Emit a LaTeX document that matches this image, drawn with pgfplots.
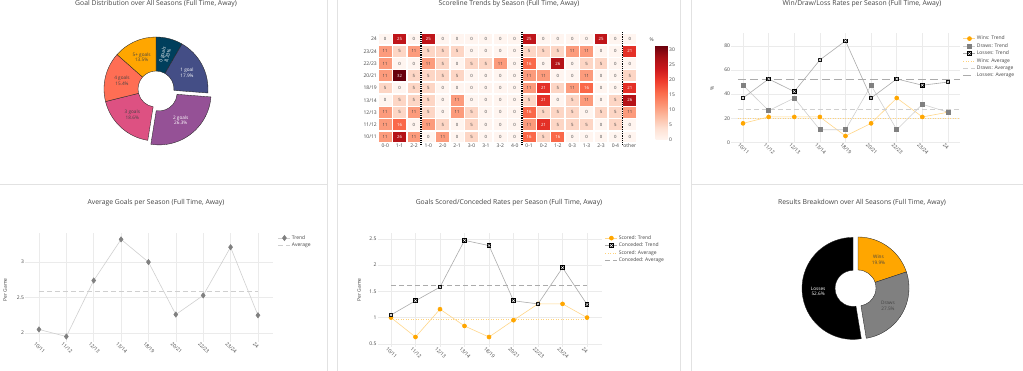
\documentclass[border=0pt]{standalone}
\usepackage{pgfplots}
\pgfplotsset{compat=1.18}
\usepackage{pgfplotstable}
\usepackage{fontspec}
\setmainfont{Open Sans}
\definecolor{txt}{HTML}{444444}
\definecolor{grd}{HTML}{EBEBEB}
\definecolor{org}{HTML}{FFA600}
\definecolor{orgl}{HTML}{FFD68A}
\definecolor{orgd}{HTML}{FFD27A}
\definecolor{gry}{HTML}{808080}
\definecolor{gryl}{HTML}{CFCFCF}
\definecolor{grym}{HTML}{ABABAB}
\definecolor{sep}{HTML}{E2E2E2}
\definecolor{pa}{HTML}{003F5C}
\definecolor{pb}{HTML}{444E86}
\definecolor{pc}{HTML}{955196}
\definecolor{pd}{HTML}{DD5182}
\definecolor{pe}{HTML}{FF6E54}
\definecolor{pf}{HTML}{FFA600}
\newcommand\ttl{\fontsize{6.8}{8}\selectfont}
\newcommand\tck{\fontsize{5.0}{5.8}\selectfont}
\newcommand\cel{\fontsize{4.3}{5}\selectfont}
\newcommand\pielab{\fontsize{4.7}{5.5}\selectfont}

\pgfdeclareplotmark{sqx}{%
  \pgfpathrectangle{\pgfpoint{-\pgfplotmarksize}{-\pgfplotmarksize}}{\pgfpoint{2\pgfplotmarksize}{2\pgfplotmarksize}}%
  \pgfsetfillcolor{black}\pgfusepathqfill
  \pgfsetstrokecolor{white}\pgfsetlinewidth{0.5pt}%
  \pgfpathmoveto{\pgfpoint{-0.55\pgfplotmarksize}{-0.55\pgfplotmarksize}}%
  \pgfpathlineto{\pgfpoint{0.55\pgfplotmarksize}{0.55\pgfplotmarksize}}%
  \pgfpathmoveto{\pgfpoint{-0.55\pgfplotmarksize}{0.55\pgfplotmarksize}}%
  \pgfpathlineto{\pgfpoint{0.55\pgfplotmarksize}{-0.55\pgfplotmarksize}}%
  \pgfusepathqstroke}
\pgfdeclareplotmark{cell}{%
  \pgfpathrectangle{\pgfpoint{-6.45pt}{-5.3pt}}{\pgfpoint{12.9pt}{10.6pt}}%
  \pgfusepathqfill}

% donut helpers (values in percent, radii in pt = axis units)
\newcommand\rin{18}
\newcommand\rout{52}
\newcommand\rlab{35}
\newcommand\slice[4]{%
  \pgfmathsetmacro\aS{90-3.6*#1}%
  \pgfmathsetmacro\aE{90-3.6*#2}%
  \pgfmathsetmacro\aM{(\aS+\aE)/2}%
  \pgfmathsetmacro\cx{#4*cos(\aM)}%
  \pgfmathsetmacro\cy{#4*sin(\aM)}%
  \pgfmathsetmacro\px{\cx+\rout*cos(\aS)}%
  \pgfmathsetmacro\py{\cy+\rout*sin(\aS)}%
  \pgfmathsetmacro\qx{\cx+\rin*cos(\aE)}%
  \pgfmathsetmacro\qy{\cy+\rin*sin(\aE)}%
  \edef\tmp{\noexpand\filldraw[fill=#3, draw=black!85, line width=0.35pt, line join=round] (axis cs:\px,\py) arc[start angle=\aS, end angle=\aE, radius=\rout pt] -- (axis cs:\qx,\qy) arc[start angle=\aE, end angle=\aS, radius=\rin pt] -- cycle;}%
  \tmp}
\newcommand\slabel[6]{%
  \pgfmathsetmacro\aM{90-1.8*(#1+#2)}%
  \pgfmathsetmacro\lx{(#3+\rlab)*cos(\aM)}%
  \pgfmathsetmacro\ly{(#3+\rlab)*sin(\aM)}%
  \edef\tmp{\noexpand\node[text=#4, rotate=#5, align=center, inner sep=0pt, font=\noexpand\pielab] at (axis cs:\lx,\ly) {\unexpanded{#6}};}%
  \tmp}

\pgfplotstableread[row sep=\\]{
x y v\\
0 0 11\\ 1 0 26\\ 2 0 11\\ 3 0 0\\ 4 0 11\\ 5 0 0\\ 6 0 5\\ 7 0 0\\ 8 0 0\\ 9 0 0\\ 10 0 16\\ 11 0 5\\ 12 0 16\\ 13 0 0\\ 14 0 0\\ 15 0 0\\ 16 0 0\\ 17 0 0\\
0 1 11\\ 1 1 16\\ 2 1 0\\ 3 1 11\\ 4 1 5\\ 5 1 0\\ 6 1 5\\ 7 1 0\\ 8 1 0\\ 9 1 0\\ 10 1 11\\ 11 1 21\\ 12 1 5\\ 13 1 5\\ 14 1 5\\ 15 1 0\\ 16 1 5\\ 17 1 0\\
0 2 11\\ 1 2 5\\ 2 2 11\\ 3 2 5\\ 4 2 0\\ 5 2 11\\ 6 2 5\\ 7 2 0\\ 8 2 0\\ 9 2 0\\ 10 2 16\\ 11 2 5\\ 12 2 5\\ 13 2 5\\ 14 2 0\\ 15 2 5\\ 16 2 5\\ 17 2 11\\
0 3 0\\ 1 3 5\\ 2 3 5\\ 3 3 5\\ 4 3 0\\ 5 3 11\\ 6 3 0\\ 7 3 0\\ 8 3 0\\ 9 3 0\\ 10 3 5\\ 11 3 21\\ 12 3 0\\ 13 3 5\\ 14 3 11\\ 15 3 0\\ 16 3 5\\ 17 3 26\\
0 4 5\\ 1 4 0\\ 2 4 5\\ 3 4 5\\ 4 4 0\\ 5 4 0\\ 6 4 0\\ 7 4 0\\ 8 4 0\\ 9 4 0\\ 10 4 11\\ 11 4 21\\ 12 4 5\\ 13 4 11\\ 14 4 16\\ 15 4 0\\ 16 4 0\\ 17 4 21\\
0 5 11\\ 1 5 32\\ 2 5 5\\ 3 5 5\\ 4 5 5\\ 5 5 5\\ 6 5 0\\ 7 5 0\\ 8 5 0\\ 9 5 0\\ 10 5 11\\ 11 5 11\\ 12 5 0\\ 13 5 0\\ 14 5 11\\ 15 5 0\\ 16 5 0\\ 17 5 5\\
0 6 11\\ 1 6 0\\ 2 6 0\\ 3 6 11\\ 4 6 5\\ 5 6 0\\ 6 6 5\\ 7 6 5\\ 8 6 11\\ 9 6 0\\ 10 6 16\\ 11 6 0\\ 12 6 26\\ 13 6 0\\ 14 6 5\\ 15 6 5\\ 16 6 0\\ 17 6 0\\
0 7 11\\ 1 7 5\\ 2 7 11\\ 3 7 5\\ 4 7 5\\ 5 7 5\\ 6 7 0\\ 7 7 0\\ 8 7 0\\ 9 7 0\\ 10 7 5\\ 11 7 5\\ 12 7 5\\ 13 7 11\\ 14 7 11\\ 15 7 0\\ 16 7 0\\ 17 7 21\\
0 8 0\\ 1 8 25\\ 2 8 0\\ 3 8 25\\ 4 8 0\\ 5 8 0\\ 6 8 0\\ 7 8 0\\ 8 8 0\\ 9 8 0\\ 10 8 25\\ 11 8 0\\ 12 8 0\\ 13 8 0\\ 14 8 0\\ 15 8 25\\ 16 8 0\\ 17 8 0\\
}\heat

\pgfplotstableread{
x wins draws losses
0 15.8 47.4 36.8
1 21.1 26.3 52.6
2 21.1 36.8 42.1
3 21.1 10.5 68.4
4 5.3 10.5 84.2
5 15.8 47.4 36.8
6 36.8 10.5 52.6
7 21.1 31.6 47.4
8 25.0 25.0 50.0
}\wdl

\pgfplotstableread{
x scored conceded total
0 1.00 1.05 2.05
1 0.63 1.32 1.95
2 1.16 1.58 2.74
3 0.84 2.47 3.32
4 0.63 2.37 3.00
5 0.95 1.32 2.26
6 1.26 1.26 2.53
7 1.26 1.95 3.21
8 1.00 1.25 2.25
}\goals

\pgfplotsset{
  linechart/.style={
    scale only axis, anchor=south west, clip=false,
    axis line style={draw=none}, tick style={draw=none},
    grid=major, major grid style={draw=grd, line width=0.5pt},
    xtick={0,...,8},
    xticklabels={10/11,11/12,12/13,13/14,18/19,20/21,22/23,23/24,24},
    ticklabel style={font=\tck, text=txt},
    xticklabel style={rotate=-45, anchor=north west, inner sep=0pt, xshift=-2.5pt, yshift=-1.5pt},
    yticklabel style={anchor=east, inner sep=0.8pt},
    /pgf/number format/assume math mode=true,
    legend cell align=left,
    legend style={draw=none, fill=none, font=\tck, text=txt, anchor=north west,
      inner sep=0pt, nodes={inner sep=1.1pt}},
    legend image code/.code={\draw[mark repeat=2, mark phase=2, ##1] plot coordinates {(0pt,0pt) (6pt,0pt) (12pt,0pt)};},
  },
}

\begin{document}
\begin{tikzpicture}[x=1pt,y=1pt]
\useasboundingbox (0,0) rectangle (1023,371);
% panel separators
\draw[sep, line width=0.6pt] (327,0) -- (327,371) (337,0) -- (337,371) (680,0) -- (680,371) (691,0) -- (691,371);
\draw[sep, line width=0.6pt] (0,187) -- (327,187) (337,187) -- (680,187) (691,187) -- (1023,187);

% titles
\node[font=\ttl, text=txt] at (156,367) {Goal Distribution over All Seasons (Full Time, Away)};
\node[font=\ttl, text=txt] at (509,367) {Scoreline Trends by Season (Full Time, Away)};
\node[font=\ttl, text=txt] at (862,367) {Win/Draw/Loss Rates per Season (Full Time, Away)};
\node[font=\ttl, text=txt] at (156,168) {Average Goals per Season (Full Time, Away)};
\node[font=\ttl, text=txt] at (509,168) {Goals Scored/Conceded Rates per Season (Full Time, Away)};
\node[font=\ttl, text=txt] at (862,168) {Results Breakdown over All Seasons (Full Time, Away)};

% ---------- Panel 1: goal distribution donut
\begin{axis}[hide axis, scale only axis, width=130pt, height=130pt,
  xmin=-65, xmax=65, ymin=-65, ymax=65, at={(156pt,282pt)}, anchor=origin, clip=false]
\slice{0}{8.33}{pa}{0}
\slice{8.33}{26.23}{pb}{0}
\slice{26.23}{52.53}{pc}{5}
\slice{52.53}{71.13}{pd}{0}
\slice{71.13}{86.53}{pe}{0}
\slice{86.53}{100}{pf}{0}
\slabel{0}{8.33}{0}{white}{75}{0 goals\\8.33\%}
\slabel{8.33}{26.23}{0}{white}{0}{1 goal\\17.9\%}
\slabel{26.23}{52.53}{5}{white}{0}{2 goals\\26.3\%}
\slabel{52.53}{71.13}{0}{txt}{0}{3 goals\\18.6\%}
\slabel{71.13}{86.53}{0}{txt}{0}{4 goals\\15.4\%}
\slabel{86.53}{100}{0}{txt}{0}{5+ goals\\13.5\%}
\end{axis}

% ---------- Panel 2: heatmap
\begin{axis}[scale only axis, at={(378pt,228pt)}, anchor=south west,
  width=259pt, height=110pt, xmin=-0.5, xmax=17.5, ymin=-0.5, ymax=8.5,
  clip=false, axis line style={draw=none}, tick style={draw=none},
  xtick={0,...,17},
  xticklabels={0-0,1-1,2-2,1-0,2-0,2-1,3-0,3-1,3-2,4-0,0-1,0-2,1-2,0-3,1-3,2-3,0-4,other},
  ytick={0,...,8},
  yticklabels={10/11,11/12,12/13,13/14,18/19,20/21,22/23,23/24,24},
  ticklabel style={font=\tck, text=txt},
  xticklabel style={inner sep=1pt},
  yticklabel style={inner sep=1pt},
  colormap={reds}{rgb255=(255,245,240) rgb255=(254,224,210) rgb255=(252,187,161) rgb255=(252,146,114) rgb255=(251,106,74) rgb255=(239,59,44) rgb255=(203,24,29) rgb255=(165,15,21) rgb255=(103,0,13)},
  point meta min=0, point meta max=31.6,
  colorbar right,
  colorbar style={scale only axis, width=12pt, height=95pt,
    at={(parent axis.south east)}, anchor=south west, xshift=10pt, yshift=3pt,
    ytick={0,5,...,30}, axis line style={draw=none}, tick style={draw=none},
    yticklabel style={font=\tck, text=txt, inner sep=1.5pt},
    /pgf/number format/assume math mode=true},
  /pgf/number format/assume math mode=true]
\addplot[scatter, only marks, mark=cell, point meta=\thisrow{v},
  scatter/use mapped color={fill=mapped color, draw=none}]
  table[x=x, y=y] {\heat};
\addplot[only marks, mark=none,
  visualization depends on={\thisrow{v} \as \cv},
  nodes near coords={\ifdim\cv pt>13pt \color{white}\else\color{txt}\fi\pgfmathprintnumber[fixed,precision=0]{\cv}},
  every node near coord/.append style={font=\cel, anchor=center, inner sep=0pt}]
  table[x=x, y=y] {\heat};
\draw[black, line width=1.6pt, dash pattern=on 0.9pt off 0.9pt] (axis cs:2.5,-0.62) -- (axis cs:2.5,8.62);
\draw[black, line width=1.6pt, dash pattern=on 0.9pt off 0.9pt] (axis cs:9.5,-0.62) -- (axis cs:9.5,8.62);
\draw[black, line width=1.6pt, dash pattern=on 0.9pt off 0.9pt] (axis cs:16.5,-0.62) -- (axis cs:16.5,8.62);
\end{axis}
\node[font=\tck, text=txt, anchor=west] at (646,331) {\%};

% ---------- Panel 3: W/D/L rates
\node[font=\tck, text=txt, rotate=90] at (712,283) {\%};
\begin{axis}[linechart, at={(731pt,228pt)}, width=229pt, height=110pt,
  xmin=-0.47, xmax=8.47, ymin=-0.5, ymax=90.7, ytick={0,20,40,60,80},
  legend style={at={(1.013,0.985)}}]
\addplot[orgl, line width=0.6pt, mark=*, mark size=2pt, mark options={fill=org, draw=org}] table[x=x,y=wins]{\wdl};
\addlegendentry{Wins: Trend}
\addplot[gryl, line width=0.6pt, mark=square*, mark size=2pt, mark options={fill=gry, draw=gry}] table[x=x,y=draws]{\wdl};
\addlegendentry{Draws: Trend}
\addplot[grym, line width=0.6pt, mark=sqx, mark size=2.3pt] table[x=x,y=losses]{\wdl};
\addlegendentry{Losses: Trend}
\addplot[orgd, line width=0.5pt, dash pattern=on 0.7pt off 1.8pt] coordinates {(-0.2,19.9) (8.47,19.9)};
\addlegendentry{Wins: Average}
\addplot[gryl, line width=0.6pt, dash pattern=on 5pt off 3pt] coordinates {(-0.2,27.5) (8.47,27.5)};
\addlegendentry{Draws: Average}
\addplot[grym, line width=0.6pt, dash pattern=on 8pt off 4pt] coordinates {(-0.2,52.6) (8.47,52.6)};
\addlegendentry{Losses: Average}
\end{axis}

% ---------- Panel 4: average goals
\node[font=\tck, text=txt, rotate=90] at (5,81) {Per Game};
\begin{axis}[linechart, at={(25pt,29pt)}, width=248pt, height=109pt,
  xmin=-0.51, xmax=8.55, ymin=1.873, ymax=3.41, ytick={2,2.5,3},
  legend style={at={(1.02,0.99)}}]
\addplot[gryl, line width=0.6pt, mark=diamond*, mark size=2.6pt, mark options={fill=gry, draw=gry}] table[x=x,y=total]{\goals};
\addlegendentry{Trend}
\addplot[gryl, line width=0.6pt, dash pattern=on 5pt off 3pt] coordinates {(0,2.59) (8,2.59)};
\addlegendentry{Average}
\end{axis}

% ---------- Panel 5: scored / conceded
\node[font=\tck, text=txt, rotate=90] at (359,81) {Per Game};
\begin{axis}[linechart, at={(377.5pt,24pt)}, width=224.5pt, height=114pt,
  xmin=-0.55, xmax=8.61, ymin=0.44, ymax=2.61, ytick={0.5,1,1.5,2,2.5},
  legend style={at={(1.013,0.99)}}]
\addplot[orgl, line width=0.6pt, mark=*, mark size=2pt, mark options={fill=org, draw=org}] table[x=x,y=scored]{\goals};
\addlegendentry{Scored: Trend}
\addplot[grym, line width=0.6pt, mark=sqx, mark size=2.3pt] table[x=x,y=conceded]{\goals};
\addlegendentry{Conceded: Trend}
\addplot[orgd, line width=0.5pt, dash pattern=on 0.7pt off 1.8pt] coordinates {(0,0.97) (8,0.97)};
\addlegendentry{Scored: Average}
\addplot[grym, line width=0.6pt, dash pattern=on 5pt off 3pt] coordinates {(0,1.62) (8,1.62)};
\addlegendentry{Conceded: Average}
\end{axis}

% ---------- Panel 6: results donut
\begin{axis}[hide axis, scale only axis, width=130pt, height=130pt,
  xmin=-65, xmax=65, ymin=-65, ymax=65, at={(858pt,83pt)}, anchor=origin, clip=false]
\renewcommand\rin{18}\renewcommand\rout{51}\renewcommand\rlab{35}
\slice{0}{19.9}{org}{0}
\slice{19.9}{47.4}{gry}{0}
\slice{47.4}{100}{black}{5}
\slabel{0}{19.9}{0}{txt}{0}{Wins\\19.9\%}
\slabel{19.9}{47.4}{0}{txt}{0}{Draws\\27.5\%}
\slabel{47.4}{100}{5}{white}{0}{Losses\\52.6\%}
\end{axis}
\end{tikzpicture}
\end{document}
